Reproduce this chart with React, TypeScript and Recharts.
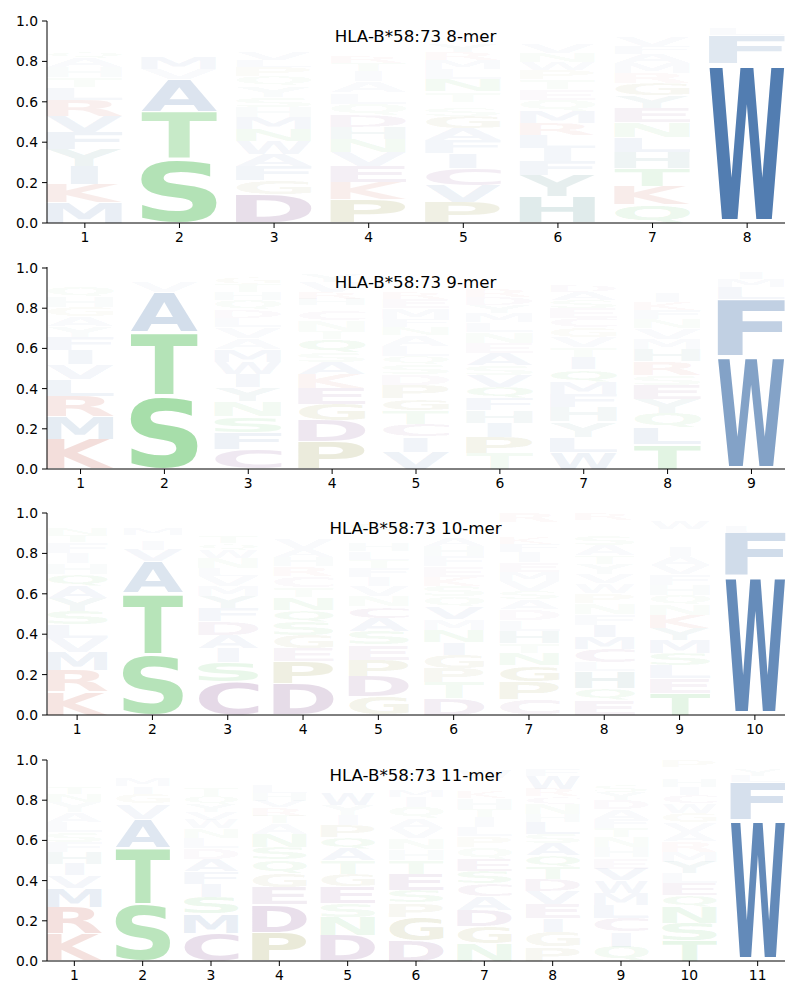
import { Bar, BarChart, XAxis, YAxis } from "recharts";

const FONT = "DejaVu Sans";
const yTicks = [0, 0.2, 0.4, 0.6, 0.8, 1];

// one string per position, letters listed bottom to top
const letters8 = [
  "MKIYFVRLTHAQNSGEDCPW",
  "STAVMQLIFKREDGPCY",
  "DGFAWNMHSYQPLVETRIKC",
  "PKEVNHDQLAITRGSMFYWC",
  "PVCIFAGSQTNLMRYHEDWK",
  "HYFILRMQETPWNVKSDAG",
  "QKTHLNEYGRMAFVISDCPW",
  "WFLVIAYM",
];
const heights8 = [
  [0.1, 0.09, 0.09, 0.085, 0.085, 0.08, 0.08, 0.06, 0.05, 0.05, 0.045, 0.035, 0.025, 0.02, 0.02, 0.02, 0.015, 0.015, 0.015, 0.01],
  [0.315, 0.235, 0.16, 0.05, 0.06, 0.03, 0.025, 0.02, 0.02, 0.015, 0.015, 0.012, 0.01, 0.01, 0.008, 0.005, 0.01],
  [0.14, 0.07, 0.07, 0.06, 0.065, 0.06, 0.06, 0.05, 0.05, 0.055, 0.045, 0.045, 0.035, 0.04, 0.03, 0.03, 0.025, 0.03, 0.02, 0.02],
  [0.115, 0.085, 0.08, 0.07, 0.065, 0.06, 0.06, 0.055, 0.055, 0.055, 0.05, 0.04, 0.035, 0.03, 0.03, 0.025, 0.025, 0.025, 0.02, 0.02],
  [0.1, 0.085, 0.085, 0.075, 0.065, 0.06, 0.06, 0.04, 0.03, 0.05, 0.06, 0.05, 0.045, 0.04, 0.04, 0.03, 0.025, 0.02, 0.02, 0.02],
  [0.13, 0.105, 0.07, 0.065, 0.065, 0.06, 0.06, 0.055, 0.05, 0.05, 0.045, 0.04, 0.045, 0.045, 0.03, 0.025, 0.02, 0.02, 0.02],
  [0.09, 0.09, 0.09, 0.08, 0.075, 0.075, 0.07, 0.06, 0.06, 0.05, 0.05, 0.045, 0.04, 0.045, 0.02, 0.02, 0.01, 0.01, 0.01, 0.01],
  [0.79, 0.14, 0.035, 0.01, 0.008, 0.007, 0.005, 0.005],
];

const letters9 = [
  "KMRLVIFYAGHQTNSEDPCW",
  "STAVILMQFNH",
  "CFSNYIWMAVLDQHTGERKP",
  "PDGEKASQTNCLHRVYMI",
  "VICTGPDSQLANFMERKHYW",
  "TPIHFQVSAENLMYDRCGKW",
  "WLYHFMQITVGCESADPNKR",
  "TLQYESRHMVNFKIAGWDPC",
  "WFLMIVY",
];
const heights9 = [
  [0.147, 0.117, 0.1, 0.08, 0.075, 0.07, 0.065, 0.055, 0.05, 0.048, 0.05, 0.05, 0.03, 0.025, 0.015, 0.01, 0.008, 0.005, 0.003, 0.002],
  [0.367, 0.313, 0.2, 0.05, 0.02, 0.015, 0.012, 0.01, 0.005, 0.004, 0.003],
  [0.098, 0.083, 0.08, 0.075, 0.07, 0.066, 0.06, 0.063, 0.055, 0.055, 0.046, 0.043, 0.046, 0.04, 0.04, 0.033, 0.015, 0.012, 0.01, 0.01],
  [0.135, 0.105, 0.083, 0.078, 0.071, 0.06, 0.05, 0.066, 0.04, 0.05, 0.05, 0.025, 0.033, 0.033, 0.05, 0.04, 0.02, 0.011],
  [0.085, 0.075, 0.065, 0.066, 0.058, 0.066, 0.055, 0.05, 0.04, 0.05, 0.055, 0.04, 0.04, 0.055, 0.045, 0.035, 0.03, 0.03, 0.03, 0.03],
  [0.078, 0.08, 0.072, 0.063, 0.058, 0.058, 0.058, 0.05, 0.058, 0.053, 0.055, 0.045, 0.046, 0.04, 0.04, 0.04, 0.03, 0.03, 0.03, 0.016],
  [0.085, 0.075, 0.075, 0.071, 0.066, 0.061, 0.061, 0.06, 0.05, 0.053, 0.046, 0.045, 0.05, 0.04, 0.04, 0.033, 0.03, 0.03, 0.015, 0.014],
  [0.124, 0.083, 0.07, 0.071, 0.07, 0.05, 0.066, 0.061, 0.05, 0.055, 0.045, 0.046, 0.04, 0.045, 0.03, 0.025, 0.02, 0.02, 0.02, 0.009],
  [0.56, 0.283, 0.06, 0.04, 0.035, 0.012, 0.01],
];

const letters10 = [
  "KRMVLSYAQHIFTNGDPC",
  "STAVILMQFHYNER",
  "CSIADFYMVLNWQTHEPRKG",
  "DPEGSQNTCRHAVLIFMKY",
  "GDPESACNVIFTLHRKQMW",
  "DTPGINMVQSKEFHALRCYW",
  "CPGNTHLDASVMEIFKQWYR",
  "EQHLCMIFNPWVYTASGDKR",
  "TELSMYKNQHFVAIGRDWPC",
  "WFLYMVI",
];
const heights10 = [
  [0.115, 0.105, 0.09, 0.07, 0.066, 0.066, 0.066, 0.061, 0.06, 0.053, 0.05, 0.053, 0.035, 0.035, 0.025, 0.02, 0.015, 0.015],
  [0.302, 0.301, 0.157, 0.058, 0.046, 0.028, 0.033, 0.02, 0.015, 0.012, 0.01, 0.008, 0.005, 0.005],
  [0.165, 0.094, 0.071, 0.066, 0.066, 0.066, 0.058, 0.05, 0.05, 0.041, 0.05, 0.041, 0.033, 0.033, 0.03, 0.02, 0.02, 0.015, 0.015, 0.016],
  [0.154, 0.11, 0.066, 0.066, 0.066, 0.058, 0.063, 0.05, 0.056, 0.046, 0.046, 0.041, 0.05, 0.03, 0.03, 0.02, 0.02, 0.015, 0.013],
  [0.09, 0.1, 0.083, 0.074, 0.066, 0.066, 0.058, 0.05, 0.053, 0.043, 0.045, 0.04, 0.041, 0.04, 0.03, 0.03, 0.04, 0.03, 0.021],
  [0.083, 0.078, 0.071, 0.066, 0.061, 0.06, 0.056, 0.06, 0.05, 0.053, 0.046, 0.053, 0.05, 0.05, 0.041, 0.03, 0.025, 0.025, 0.02, 0.022],
  [0.078, 0.088, 0.079, 0.061, 0.05, 0.058, 0.055, 0.053, 0.05, 0.041, 0.05, 0.045, 0.046, 0.05, 0.041, 0.035, 0.03, 0.025, 0.02, 0.045],
  [0.074, 0.058, 0.083, 0.045, 0.066, 0.06, 0.061, 0.05, 0.055, 0.05, 0.05, 0.045, 0.05, 0.041, 0.053, 0.046, 0.03, 0.03, 0.02, 0.033],
  [0.107, 0.074, 0.066, 0.061, 0.063, 0.058, 0.066, 0.05, 0.05, 0.05, 0.05, 0.045, 0.045, 0.046, 0.03, 0.03, 0.03, 0.04, 0.02, 0.019],
  [0.69, 0.212, 0.033, 0.02, 0.015, 0.015, 0.015],
];

const letters11 = [
  "KRMVIHFSLAYNTQGEDPCW",
  "STAVGIMLFHYNR",
  "CMSIFADLNWVYQTHGRKEP",
  "PDEGQSNATRVHLKFYIMC",
  "DNSEGTAQPIYWFLHMVRK",
  "DGPSETHNVAQIMRKLFYW",
  "NGDACSEQPLITHKMYWVF",
  "PGIEVDTQASLHNCRWFKMY",
  "QICLMWVEHNTFADYSGPRK",
  "TSNQELYMRAVGWCIHKDP",
  "WFLYVIM",
];
const heights11 = [
  [0.136, 0.132, 0.096, 0.061, 0.058, 0.058, 0.05, 0.05, 0.05, 0.05, 0.05, 0.041, 0.033, 0.03, 0.02, 0.02, 0.015, 0.01, 0.01, 0.02],
  [0.285, 0.278, 0.144, 0.075, 0.05, 0.036, 0.038, 0.03, 0.02, 0.015, 0.012, 0.01, 0.007],
  [0.139, 0.096, 0.083, 0.066, 0.063, 0.061, 0.055, 0.05, 0.045, 0.045, 0.038, 0.04, 0.04, 0.04, 0.03, 0.03, 0.03, 0.02, 0.015, 0.014],
  [0.144, 0.137, 0.086, 0.07, 0.066, 0.063, 0.066, 0.053, 0.038, 0.041, 0.033, 0.04, 0.04, 0.03, 0.03, 0.02, 0.02, 0.013, 0.01],
  [0.127, 0.091, 0.07, 0.083, 0.063, 0.066, 0.058, 0.058, 0.058, 0.05, 0.05, 0.058, 0.03, 0.03, 0.03, 0.02, 0.02, 0.02, 0.018],
  [0.103, 0.116, 0.07, 0.063, 0.079, 0.07, 0.055, 0.055, 0.05, 0.05, 0.055, 0.05, 0.036, 0.03, 0.03, 0.025, 0.02, 0.02, 0.023],
  [0.086, 0.086, 0.079, 0.07, 0.063, 0.063, 0.061, 0.055, 0.056, 0.046, 0.05, 0.041, 0.055, 0.036, 0.03, 0.03, 0.04, 0.03, 0.023],
  [0.07, 0.075, 0.066, 0.071, 0.066, 0.061, 0.058, 0.058, 0.058, 0.05, 0.058, 0.041, 0.05, 0.036, 0.038, 0.066, 0.033, 0.02, 0.015, 0.01],
  [0.07, 0.075, 0.066, 0.066, 0.061, 0.063, 0.058, 0.055, 0.05, 0.05, 0.045, 0.045, 0.05, 0.046, 0.041, 0.035, 0.025, 0.025, 0.03, 0.014],
  [0.1, 0.089, 0.08, 0.058, 0.058, 0.05, 0.058, 0.05, 0.05, 0.05, 0.046, 0.045, 0.05, 0.04, 0.04, 0.04, 0.03, 0.03, 0.036],
  [0.704, 0.185, 0.033, 0.033, 0.02, 0.015, 0.01],
];

const panels = [
  { title: "HLA-B*58:73 8-mer", letters: letters8, heights: heights8, top: 0, height: 246 },
  { title: "HLA-B*58:73 9-mer", letters: letters9, heights: heights9, top: 246, height: 246 },
  { title: "HLA-B*58:73 10-mer", letters: letters10, heights: heights10, top: 492, height: 246 },
  { title: "HLA-B*58:73 11-mer", letters: letters11, heights: heights11, top: 739, height: 245 },
];

const colorOf = (letter: string) => {
  if ("STNQ".includes(letter)) return "#44b84a";
  if ("KR".includes(letter)) return "#c0503f";
  if ("DEC".includes(letter)) return "#824b8c";
  if ("PG".includes(letter)) return "#8c8c32";
  if ("HY".includes(letter)) return "#438383";
  return "#527db1";
};

// rarer residues fade faster than their height alone would give
const opacityOf = (value: number) => Math.min(1, value * 1.28) * Math.min(1, 0.45 + 5.5 * value);

// ink box of a glyph at 100px, so a letter can be stretched to fill its bar
const inkCache: Record<string, { left: number; right: number; top: number; bottom: number }> = {};
const ctx = document.createElement("canvas").getContext("2d")!;
function inkOf(letter: string) {
  if (!inkCache[letter]) {
    ctx.font = `bold 100px "${FONT}"`;
    const m = ctx.measureText(letter);
    inkCache[letter] = {
      left: -m.actualBoundingBoxLeft,
      right: m.actualBoundingBoxRight,
      top: -m.actualBoundingBoxAscent,
      bottom: m.actualBoundingBoxDescent,
    };
  }
  return inkCache[letter];
}

function LetterShape(props: any) {
  const { x, y, width, height, payload, level } = props;
  const letter = payload[`l${level}`];
  if (!letter || !height) return null;
  const value = payload[`s${level}`];
  const ink = inkOf(letter);
  const pad = height * (letter === "W" ? 0.028 : 0.02);
  const boxW = letter === "I" ? width * 0.36 : width;
  const sx = boxW / (ink.right - ink.left);
  const sy = (height - pad * 2) / (ink.bottom - ink.top);
  const tx = x + (width - boxW) / 2 - ink.left * sx;
  const ty = y + pad - ink.top * sy;
  return (
    <text
      transform={`translate(${tx},${ty}) scale(${sx},${sy})`}
      fontFamily={FONT}
      fontWeight="bold"
      fontSize={100}
      fill={colorOf(letter)}
      fillOpacity={opacityOf(value)}
    >
      {letter}
    </text>
  );
}

function LogoPanel({ title, letters, heights, top, height }: any) {
  const n = letters.length;
  const rows = letters.map((word: string, i: number) => {
    const row: any = { pos: i + 1 };
    word.split("").forEach((c, j) => {
      row[`s${j}`] = heights[i][j];
      row[`l${j}`] = c;
    });
    return row;
  });
  const depth = Math.max(...letters.map((w: string) => w.length));
  const levels = Array.from({ length: depth }, (_, j) => j);
  const ticks = letters.map((_: string, i: number) => i + 1);
  const barSize = (738 * 0.8) / (n - 0.2);

  return (
    <div style={{ position: "absolute", left: 0, top, width: 800, height }}>
      <BarChart
        width={800}
        height={height}
        data={rows}
        barSize={barSize}
        margin={{ top: 21, right: 15, bottom: 0, left: 0 }}
      >
        <XAxis
          dataKey="pos"
          type="number"
          domain={[0.6, n + 0.4]}
          ticks={ticks}
          interval={0}
          height={23}
          stroke="#000"
          tickSize={5}
          tickMargin={4}
          tick={{ fill: "#000", fontSize: 13.89, fontFamily: FONT }}
        />
        <YAxis
          type="number"
          domain={[0, 1]}
          ticks={yTicks}
          interval={0}
          width={47}
          stroke="#000"
          tickSize={5}
          tickMargin={4}
          tickFormatter={(v: number) => v.toFixed(1)}
          tick={{ fill: "#000", fontSize: 13.89, fontFamily: FONT }}
        />
        {levels.map((j) => (
          <Bar
            key={j}
            dataKey={`s${j}`}
            stackId="logo"
            isAnimationActive={false}
            shape={(p: any) => <LetterShape {...p} level={j} />}
          />
        ))}
        <text x={415.5} y={42} textAnchor="middle" fontFamily={FONT} fontSize={16.67} fill="#000">
          {title}
        </text>
      </BarChart>
    </div>
  );
}

export default function App() {
  return (
    <div style={{ position: "absolute", left: 0, top: 0, width: 800, height: 1000, background: "#fff" }}>
      {panels.map((p) => (
        <LogoPanel key={p.title} {...p} />
      ))}
    </div>
  );
}
